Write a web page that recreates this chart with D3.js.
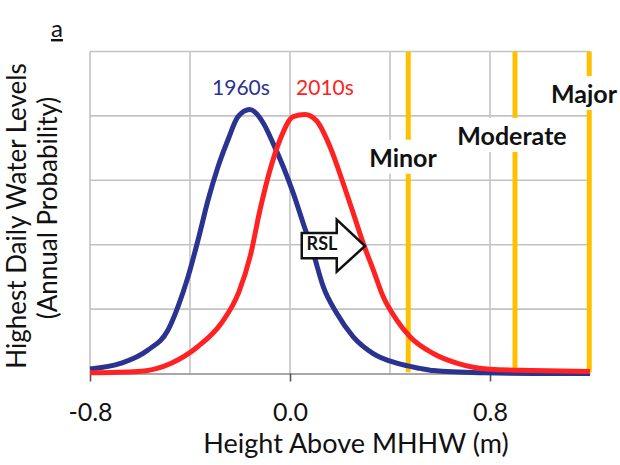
<!DOCTYPE html>
<html>
<head>
<meta charset="utf-8">
<script src="https://cdn.jsdelivr.net/npm/d3@7"></script>
<style>
  html, body { margin: 0; padding: 0; background: #fff; }
  svg { display: block; font-family: Lato, "Open Sans", sans-serif; }
</style>
</head>
<body>
<svg id="chart" width="620" height="465"></svg>
<script>
// Height above MHHW (m) and relative annual probability of the highest daily water level
const heights1960s = [-0.80, -0.675, -0.568, -0.488, -0.448, -0.408, -0.368, -0.328, -0.288, -0.248, -0.208, -0.161,
  -0.107, -0.067, -0.027, 0.013, 0.053, 0.093, 0.133, 0.187, 0.253, 0.333, 0.427, 0.52, 0.573, 0.773, 0.972, 1.2];
const prob1960s = [0.07, 0.16, 0.365, 0.675, 1.04, 1.50, 2.07, 2.69, 3.21, 3.63, 3.99, 4.10,
  3.89, 3.57, 3.21, 2.80, 2.33, 1.87, 1.35, 0.935, 0.57, 0.31, 0.16, 0.08, 0.045, 0.01, 0.0, 0.0];

const heights2010s = [-0.80, -0.608, -0.475, -0.368, -0.275, -0.204, -0.158, -0.12, -0.08, -0.04, 0.013, 0.06,
  0.107, 0.16, 0.213, 0.253, 0.293, 0.333, 0.373, 0.427, 0.48, 0.573, 0.667, 0.8, 0.972, 1.2];
const prob2010s = [0.01, 0.03, 0.16, 0.42, 0.78, 1.27, 1.84, 2.54, 3.16, 3.63, 3.99, 4.02,
  3.92, 3.52, 2.95, 2.49, 2.02, 1.61, 1.19, 0.83, 0.57, 0.31, 0.16, 0.065, 0.045, 0.03];

// Flood thresholds (m above MHHW) and where their names sit
const floodNames = ["Minor", "Moderate", "Major"];
const floodLevels = [0.473, 0.9, 1.197];
const floodLabelHeight = [0.452, 0.888, 1.176];
const floodLabelProb = [3.21, 3.55, 4.2];

const xTickValues = [-0.8, 0.0, 0.8];
const xGridValues = [-0.8, -0.4, 0.0, 0.4, 0.8];
const yGridValues = [1, 2, 3, 4, 5];

// RSL shift arrow outline, in data units (height, probability)
const arrowHeights = [0.047, 0.187, 0.187, 0.3, 0.187, 0.187, 0.047];
const arrowProbs = [2.18, 2.18, 2.39, 1.98, 1.58, 1.79, 1.79];

const svg = d3.select("#chart");
const plotLeft = 90, plotRight = 590, plotTop = 51.5, plotBottom = 373.5;

const x = d3.scaleLinear().domain([-0.8, 1.2]).range([plotLeft, plotRight]);
const y = d3.scaleLinear().domain([0, 5]).range([plotBottom, plotTop]);

const gridColor = "#c3c3c3";

// Gridlines
svg.append("g").selectAll("line").data(xGridValues).join("line")
  .attr("x1", d => x(d)).attr("x2", d => x(d))
  .attr("y1", y(5)).attr("y2", y(0))
  .attr("stroke", gridColor).attr("stroke-width", 1.6);
svg.append("g").selectAll("line").data(yGridValues).join("line")
  .attr("x1", x(-0.8)).attr("x2", x(1.2))
  .attr("y1", d => y(d)).attr("y2", d => y(d))
  .attr("stroke", gridColor).attr("stroke-width", 1.6);

// Bottom axis
const xAxis = d3.axisBottom(x).tickValues(xTickValues)
  .tickFormat(d3.format(".1f")).tickSize(8).tickSizeOuter(0);
const gx = svg.append("g").attr("transform", `translate(0,${plotBottom})`).call(xAxis);
gx.select(".domain").attr("stroke", "#8a8a8a").attr("stroke-width", 1.6);
gx.selectAll(".tick line").attr("stroke", "#555").attr("stroke-width", 1.6);
gx.selectAll(".tick text")
  .attr("font-family", "Lato, sans-serif").attr("font-size", 25)
  .attr("fill", "#111").attr("y", 21).attr("dy", "1.05em")
  .text(d => d < 0 ? "-" + d3.format(".1f")(-d) : d3.format(".1f")(d));

// Flood threshold lines
const orange = "#ffc000";
svg.append("g").selectAll("line").data(floodLevels).join("line")
  .attr("x1", d => x(d)).attr("x2", d => x(d))
  .attr("y1", y(5)).attr("y2", y(0.02))
  .attr("stroke", orange).attr("stroke-width", 5);

// Probability curves
const line = d3.line().curve(d3.curveMonotoneX);
function drawCurve(hs, ps, color) {
  svg.append("path")
    .attr("d", line(hs.map((h, i) => [x(h), y(ps[i])])))
    .attr("fill", "none").attr("stroke", color)
    .attr("stroke-width", 5).attr("stroke-linejoin", "round");
}
drawCurve(heights1960s, prob1960s, "#2b3390");
drawCurve(heights2010s, prob2010s, "#ff2222");

// Flood labels on white boxes
floodNames.forEach((name, i) => {
  const g = svg.append("g");
  const t = g.append("text")
    .attr("x", x(floodLabelHeight[i])).attr("y", y(floodLabelProb[i]))
    .attr("text-anchor", "middle")
    .attr("font-family", "Lato, sans-serif").attr("font-weight", "bold")
    .attr("font-size", 25).attr("fill", "#111").text(name);
  const b = t.node().getBBox();
  g.insert("rect", "text")
    .attr("x", b.x - 2).attr("y", b.y - 2)
    .attr("width", b.width + 4).attr("height", b.height + 4)
    .attr("fill", "#fff");
});

// Decade labels
svg.append("text").attr("x", x(-0.196)).attr("y", y(4.32))
  .attr("text-anchor", "middle").attr("font-size", 21).attr("fill", "#2b3390")
  .text("1960s");
svg.append("text").attr("x", x(0.14)).attr("y", y(4.32))
  .attr("text-anchor", "middle").attr("font-size", 21).attr("fill", "#ff2222")
  .text("2010s");

// RSL arrow
svg.append("path")
  .attr("d", d3.line()(arrowHeights.map((h, i) => [x(h), y(arrowProbs[i])])) + "Z")
  .attr("fill", "#fff").attr("stroke", "#111").attr("stroke-width", 2.5)
  .attr("stroke-linejoin", "miter");
svg.append("text").attr("x", x(0.128)).attr("y", y(1.985))
  .attr("text-anchor", "middle").attr("dominant-baseline", "middle")
  .attr("font-weight", "bold").attr("font-size", 18).attr("fill", "#111")
  .text("RSL");

// Axis titles
svg.append("text").attr("x", 356).attr("y", 453)
  .attr("text-anchor", "middle").attr("font-size", 27).attr("fill", "#111")
  .text("Height Above MHHW (m)");
svg.append("text")
  .attr("transform", `translate(26,216) rotate(-90)`)
  .attr("text-anchor", "middle").attr("font-size", 26).attr("fill", "#111")
  .text("Highest Daily Water Levels");
svg.append("text")
  .attr("transform", `translate(57,208) rotate(-90)`)
  .attr("text-anchor", "middle").attr("font-size", 26).attr("fill", "#111")
  .text("(Annual Probability)");

// Panel letter
svg.append("text").attr("x", 51).attr("y", 37)
  .attr("font-size", 24).attr("fill", "#111").attr("text-decoration", "underline")
  .text("a");
</script>
</body>
</html>
